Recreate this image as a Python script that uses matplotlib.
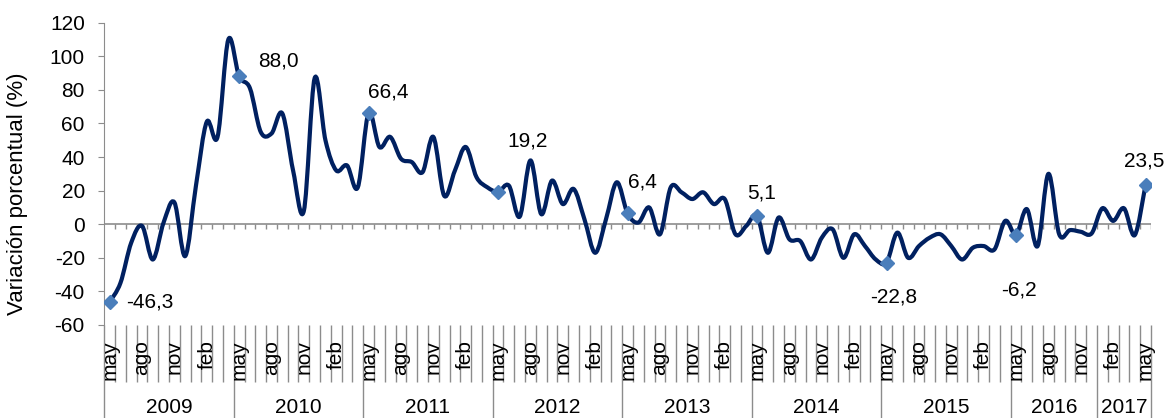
import matplotlib
matplotlib.use('Agg')
import matplotlib.pyplot as plt
import matplotlib.transforms as mtransforms
from matplotlib.path import Path
from matplotlib.patches import PathPatch
import numpy as np

# monthly variation (%) from may 2009 to may 2017
values = [
    -46.3, -35, -11, -1, -21, 1, 13, -19, 23, 61, 52, 110,      # may09-abr10
    88.0, 81, 55, 54, 66, 32, 8, 87, 50, 32, 35, 22,             # may10-abr11
    66.4, 46, 52, 39, 37, 31, 52, 17, 32, 46, 28, 22,            # may11-abr12
    19.2, 23, 4.5, 38, 6, 26, 12, 21, 3, -17, 3, 25,             # may12-abr13
    6.4, 1, 10, -6, 22, 19, 15, 19, 12, 15, -6, -1,              # may13-abr14
    5.1, -17, 4, -9, -10, -21, -8, -3, -20, -6, -13, -21,        # may14-abr15
    -22.8, -5, -20, -13, -8, -6, -13, -21, -14, -13, -15, 2,     # may15-abr16
    -6.2, 9, -13, 30, -6, -3.5, -4.5, -5.5,                      # may16-dic16
    9.5, 2, 9.5, -6.5, 23.5,                                     # ene17-may17
]
month_labels = ['may', 'ago', 'nov', 'feb']
year_groups = [('2009', 12), ('2010', 12), ('2011', 12), ('2012', 12),
               ('2013', 12), ('2014', 12), ('2015', 12), ('2016', 8), ('2017', 5)]
labelled_idx = [0, 12, 24, 36, 48, 60, 72, 84, 96]
# label offsets (points) from each marker
label_offsets = [(12, 0), (28, 11), (14, 15), (21, 37), (11, 23),
                 (3, 16), (5, -25), (2, -40), (-1, 17)]

gray = '#8c8c8c'
plt.rcParams['font.family'] = 'Liberation Sans'
plt.rcParams['axes.unicode_minus'] = False

fig = plt.figure(figsize=(11.7, 4.18), dpi=100)
ax = fig.add_axes([0.0891, 0.2225, 0.8946, 0.7232])

n = len(values)
x = np.arange(n)
y = np.array(values, dtype=float)

# smoothed line like excel: bezier through the points
verts = [(x[0], y[0])]
codes = [Path.MOVETO]
for i in range(n - 1):
    p0 = max(i - 1, 0)
    p3 = min(i + 2, n - 1)
    c1 = (x[i] + (x[i + 1] - x[p0]) / 6, y[i] + (y[i + 1] - y[p0]) / 6)
    c2 = (x[i + 1] - (x[p3] - x[i]) / 6, y[i + 1] - (y[p3] - y[i]) / 6)
    verts += [c1, c2, (x[i + 1], y[i + 1])]
    codes += [Path.CURVE4] * 3
ax.add_patch(PathPatch(Path(verts, codes), fill=False, edgecolor='#002060',
                       lw=3, capstyle='round', joinstyle='round', zorder=3))

ax.plot(x[labelled_idx], y[labelled_idx], 'D', color='#4a7ebb', ms=7.5,
        mec='#4a7ebb', zorder=4)
for idx, (dx, dy) in zip(labelled_idx, label_offsets):
    txt = f"{values[idx]:.1f}".replace('.', ',')
    ha = 'left' if idx == 0 else 'center'
    ax.annotate(txt, (idx, values[idx]), xytext=(dx, dy), textcoords='offset points',
                ha=ha, va='center', fontsize=15, color='black', zorder=5)

ax.set_xlim(-0.5, n - 0.5)
ax.set_ylim(-60, 120)
ax.set_yticks(range(-60, 121, 20))
for s in ['top', 'right', 'bottom']:
    ax.spines[s].set_visible(False)
ax.spines['left'].set_color(gray)
ax.tick_params(axis='y', length=4, color=gray, labelsize=15, pad=10)
ax.tick_params(axis='x', bottom=False, labelbottom=False)

# horizontal axis crossing at 0 with small ticks
bounds = np.arange(n + 1) - 0.5
ax.axhline(0, color=gray, lw=1.2, zorder=2)
ax.vlines(bounds[1:], -3, 0, color=gray, lw=1, zorder=2)

# category label area below the plot
trans = mtransforms.blended_transform_factory(ax.transData, ax.transAxes)
year_starts = np.cumsum([0] + [c for _, c in year_groups])
month_bounds = [b for k, b in enumerate(bounds) if k not in year_starts]
ax.vlines(month_bounds, -0.189, 0, color=gray, lw=1, transform=trans, clip_on=False)
ax.vlines(bounds[year_starts], -0.31, 0, color=gray, lw=1, transform=trans, clip_on=False)

for i in range(0, n, 3):
    ax.text(i, -0.05, month_labels[(i // 3) % 4], rotation=90, ha='center', va='top',
            fontsize=15, transform=trans)
for (yr, cnt), start in zip(year_groups, year_starts):
    ax.text(start - 0.5 + cnt / 2, -0.272, yr, ha='center', va='center',
            fontsize=15, transform=trans)

fig.text(18 / 1170, 0.536, 'Variación porcentual (%)', rotation=90,
         ha='center', va='center', fontsize=16)

fig.savefig('out.png', dpi=100)
